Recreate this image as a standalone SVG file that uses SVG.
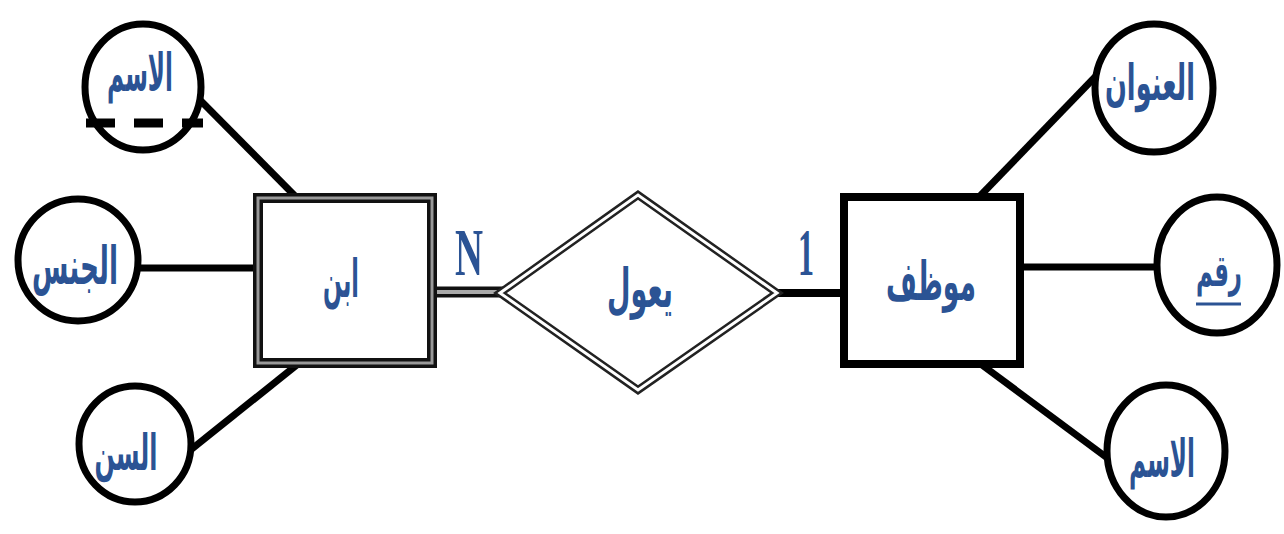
<svg xmlns="http://www.w3.org/2000/svg" width="1284" height="534" viewBox="0 0 1284 534">
<style>
.attr{fill:#fff;stroke:#000;stroke-width:7}
.ln{stroke:#000;stroke-width:7;fill:none;stroke-linecap:butt}
.ar{font-family:"DejaVu Sans",sans-serif;font-weight:bold;fill:#2b5394;text-anchor:middle}
.card{font-family:"Liberation Serif",serif;fill:#2b5394;font-size:68px;font-weight:bold}
</style>
<rect width="1284" height="534" fill="#fff"/>
<g id="connectors">
<line class="ln" x1="198" y1="98" x2="298" y2="199"/>
<line class="ln" x1="138" y1="268" x2="256" y2="268"/>
<line class="ln" x1="188" y1="452" x2="298" y2="364"/>
<line x1="434" y1="292" x2="503" y2="292" stroke="#111" stroke-width="11"/>
<line x1="434" y1="292" x2="503" y2="292" stroke="#aaa" stroke-width="4"/>
<line x1="775" y1="293" x2="842" y2="293" stroke="#000" stroke-width="8"/>
<line class="ln" x1="980" y1="196" x2="1096" y2="76"/>
<line class="ln" x1="1022" y1="267" x2="1158" y2="267"/>
<line class="ln" x1="982" y1="365" x2="1110" y2="460"/>
</g>
<g id="attr-name-left">
<ellipse class="attr" cx="143" cy="87" rx="58" ry="63"/>
<text class="ar" x="140" y="91" font-size="52" textLength="66" lengthAdjust="spacingAndGlyphs">الاسم</text>
<line x1="86" y1="123" x2="203" y2="123" stroke="#000" stroke-width="9" stroke-dasharray="29,19"/>
</g>
<g id="attr-gender">
<ellipse class="attr" cx="78" cy="260" rx="60" ry="61"/>
<text class="ar" x="75" y="284" font-size="52" textLength="86" lengthAdjust="spacingAndGlyphs">الجنس</text>
</g>
<g id="attr-age">
<ellipse class="attr" cx="135" cy="444" rx="56" ry="58"/>
<text class="ar" x="126" y="470" font-size="50" textLength="63" lengthAdjust="spacingAndGlyphs">السن</text>
</g>
<g id="entity-son">
<rect x="258" y="198" width="174" height="165" fill="#fff" stroke="#111" stroke-width="10"/>
<rect x="258" y="198" width="174" height="165" fill="none" stroke="#999" stroke-width="3"/>
<text class="ar" x="341" y="297" font-size="52" textLength="36" lengthAdjust="spacingAndGlyphs">ابن</text>
</g>
<g id="card-n">
<text class="card" x="455" y="275" textLength="28" lengthAdjust="spacingAndGlyphs">N</text>
</g>
<g id="rel-supports">
<polygon points="500,293 638,195 777,293 638,390" fill="#fff" stroke="#222" stroke-width="8" stroke-linejoin="miter"/>
<polygon points="500,293 638,195 777,293 638,390" fill="none" stroke="#fff" stroke-width="3" stroke-linejoin="miter"/>
<text class="ar" x="640" y="307" font-size="54" textLength="66" lengthAdjust="spacingAndGlyphs">يعول</text>
</g>
<g id="card-1">
<text class="card" x="798" y="275" textLength="16" lengthAdjust="spacingAndGlyphs">1</text>
</g>
<g id="entity-employee">
<rect x="844" y="197" width="176" height="167" fill="#fff" stroke="#000" stroke-width="8"/>
<text class="ar" x="931" y="300" font-size="54" textLength="90" lengthAdjust="spacingAndGlyphs">موظف</text>
</g>
<g id="attr-address">
<ellipse class="attr" cx="1154" cy="88" rx="59" ry="64"/>
<text class="ar" x="1150" y="100" font-size="50" textLength="90" lengthAdjust="spacingAndGlyphs">العنوان</text>
</g>
<g id="attr-number">
<ellipse class="attr" cx="1217" cy="265" rx="60" ry="68"/>
<text class="ar" x="1219" y="286" font-size="44" textLength="46" lengthAdjust="spacingAndGlyphs">رقم</text>
<line x1="1196" y1="304" x2="1241" y2="304" stroke="#2b5394" stroke-width="3"/>
</g>
<g id="attr-name-right">
<ellipse class="attr" cx="1166" cy="451" rx="59" ry="66"/>
<text class="ar" x="1162" y="477" font-size="52" textLength="66" lengthAdjust="spacingAndGlyphs">الاسم</text>
</g>
</svg>
